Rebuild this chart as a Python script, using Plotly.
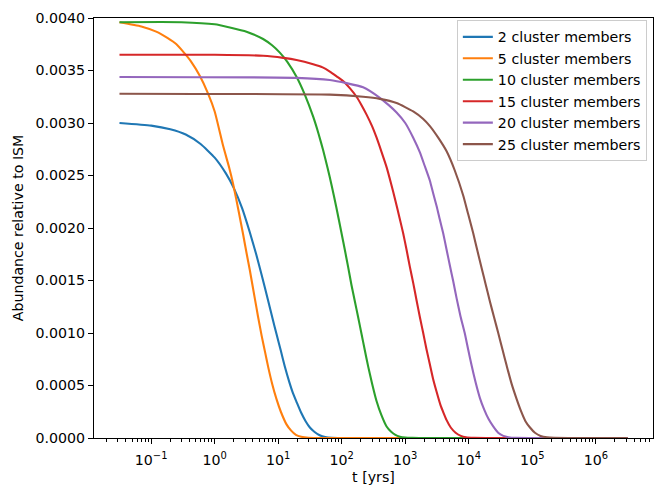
import plotly.graph_objects as go

# ---- data (t in years, abundance relative to ISM) ----
t_2 = [0.0317, 0.1, 0.2, 0.35, 0.6, 1.0, 1.5, 2.0, 2.7, 3.57, 4.5, 5.5, 6.93, 8.2, 9.4, 11, 12.7, 15, 17,
       19.4, 23, 27, 31.5, 37, 45, 55, 70, 100, 3.17e6]
v_2 = [0.00300, 0.002975, 0.00294, 0.00289, 0.00280, 0.00267, 0.00252, 0.00238, 0.00219, 0.00196, 0.00175,
       0.00155, 0.00131, 0.00113, 0.00099, 0.00083, 0.00068, 0.00053, 0.00043, 0.000345, 0.00024, 0.00016,
       0.00010, 0.00006, 0.000026, 0.000009, 0.000002, 0, 0]

t_5 = [0.0317, 0.07, 0.12, 0.18, 0.25, 0.318, 0.42, 0.582, 0.787, 1.0, 1.36, 1.7, 1.95, 2.4, 2.8, 3.2, 3.57,
       4.28, 4.8, 5.46, 6.2, 6.93, 8, 9.4, 11, 13.5, 16, 19, 23, 30, 40, 3.17e6]
v_5 = [0.00396, 0.00392, 0.00387, 0.00381, 0.00375, 0.00368, 0.00359, 0.00345, 0.00328, 0.00311, 0.00278,
       0.00257, 0.00242, 0.00215, 0.00194, 0.00175, 0.00160, 0.00133, 0.00116, 0.00098, 0.00082, 0.00068,
       0.00052, 0.00037, 0.00025, 0.00013, 0.00007, 0.00003, 0.000012, 0.000002, 0, 0]

t_10 = [0.0317, 0.3, 1.0, 1.73, 3.17, 5.78, 8, 10.6, 14, 19.4, 26.2, 35.5, 43, 51, 60, 69.1, 82, 99.3, 112,
        126, 142, 161, 180, 205, 230, 261, 300, 354, 420, 508, 600, 700, 823, 1000, 1300, 2000, 3.17e6]
v_10 = [0.00396, 0.00396, 0.00394, 0.00391, 0.00387, 0.00380, 0.00374, 0.00367, 0.00358, 0.00344, 0.00327,
        0.00306, 0.00290, 0.00274, 0.00257, 0.00241, 0.00220, 0.00195, 0.00179, 0.00163, 0.00146, 0.00130,
        0.00116, 0.00099, 0.00084, 0.00068, 0.00052, 0.00035, 0.00022, 0.00011, 0.00006, 0.00003,
        0.000013, 0.000004, 0.000001, 0, 0]

t_15 = [0.0317, 1, 5.78, 12, 19.4, 35.5, 50, 65, 85, 105, 135, 171, 205, 246, 300, 354, 420, 508, 600, 700,
        810, 927, 1050, 1182, 1340, 1508, 1700, 1916, 2150, 2443, 2750, 3113, 3600, 4000, 4477, 5200, 6200,
        7500, 9000, 12000, 20000, 3.17e6]
v_15 = [0.00365, 0.00365, 0.00364, 0.00362, 0.00360, 0.00356, 0.00353, 0.00349, 0.00344, 0.00340, 0.00333,
        0.00325, 0.00317, 0.00308, 0.00297, 0.00286, 0.00273, 0.00258, 0.00242, 0.00226, 0.00210, 0.00195,
        0.00179, 0.00163, 0.00147, 0.00131, 0.00115, 0.00100, 0.00085, 0.00070, 0.00056, 0.00044, 0.00031,
        0.00024, 0.00017, 0.00010, 0.00005, 0.00002, 0.000007, 0.000001, 0, 0]

t_20 = [0.0317, 19.4, 65, 119, 217, 398, 550, 730, 1000, 1334, 1700, 2000, 2443, 2750, 3113, 3500, 3955, 4450,
        5047, 5700, 6436, 7400, 8696, 9800, 11090, 12800, 14980, 17500, 20500, 24250, 29000, 35000, 42000,
        55000, 100000, 3.17e6]
v_20 = [0.003438, 0.00343, 0.00341, 0.00338, 0.00334, 0.00324, 0.00317, 0.00310, 0.00300, 0.00286, 0.00272,
        0.00260, 0.00245, 0.00233, 0.00221, 0.00208, 0.00195, 0.00180, 0.00164, 0.00149, 0.00133, 0.00116,
        0.00099, 0.00084, 0.00069, 0.00053, 0.00038, 0.00027, 0.00018, 0.00011, 0.00005, 0.00002,
        0.000008, 0.000001, 0, 0]

t_25 = [0.0317, 65, 217, 398, 730, 1334, 1900, 2443, 3300, 4477, 6000, 8170, 9800, 11750, 13700, 15920, 18500,
        21510, 25000, 29090, 34000, 39430, 47000, 56690, 66000, 78000, 91900, 110000, 135000, 170000, 220000,
        400000, 3.17e6]
v_25 = [0.003279, 0.00327, 0.00325, 0.00323, 0.00319, 0.00311, 0.00304, 0.00297, 0.00286, 0.00273, 0.00255,
        0.00231, 0.00213, 0.00195, 0.00178, 0.00162, 0.00146, 0.00130, 0.00115, 0.00100, 0.00084, 0.00069,
        0.00052, 0.00037, 0.00026, 0.00016, 0.00010, 0.00005, 0.00002, 0.000006, 0.000001, 0, 0]

series = [
    ("2 cluster members", t_2, v_2, "#1f77b4"),
    ("5 cluster members", t_5, v_5, "#ff7f0e"),
    ("10 cluster members", t_10, v_10, "#2ca02c"),
    ("15 cluster members", t_15, v_15, "#d62728"),
    ("20 cluster members", t_20, v_20, "#9467bd"),
    ("25 cluster members", t_25, v_25, "#8c564b"),
]

x_tickvals = [1e-1, 1e0, 1e1, 1e2, 1e3, 1e4, 1e5, 1e6]
x_ticktext = ["10<sup>\u22121</sup>", "10<sup>0</sup>", "10<sup>1</sup>", "10<sup>2</sup>",
              "10<sup>3</sup>", "10<sup>4</sup>", "10<sup>5</sup>", "10<sup>6</sup>"]
minor_vals = [m * 10.0 ** e for e in range(-2, 7) for m in range(2, 10)]

FONT = "DejaVu Sans"
FS = 14.2

fig = go.Figure()
for name, t, v, c in series:
    fig.add_trace(go.Scatter(x=t, y=v, mode="lines", name=name,
                             line=dict(color=c, width=2.1, shape="spline", smoothing=0.5)))

fig.update_layout(
    width=659, height=485,
    margin=dict(l=94, r=6, t=18, b=47),
    paper_bgcolor="white", plot_bgcolor="white",
    font=dict(family=FONT, size=FS, color="black"),
    showlegend=True,
    legend=dict(x=0.989, y=0.995, xanchor="right", yanchor="top",
                bgcolor="rgba(255,255,255,0.8)", bordercolor="#cccccc", borderwidth=1,
                font=dict(family=FONT, size=FS, color="black"),
                tracegroupgap=0, itemwidth=30),
    xaxis=dict(
        type="log", range=[-1.9, 6.9], automargin=False,
        tickmode="array", tickvals=x_tickvals, ticktext=x_ticktext,
        ticks="outside", ticklen=5, tickwidth=1.1, tickcolor="black",
        ticklabelstandoff=4,
        minor=dict(tickmode="array", tickvals=minor_vals, ticks="outside",
                   ticklen=3, tickwidth=0.8, tickcolor="black", showgrid=False),
        showgrid=False, zeroline=False,
        showline=True, linecolor="black", linewidth=1.1, mirror=True,
        title=dict(text="t [yrs]", font=dict(family=FONT, size=FS), standoff=6),
    ),
    yaxis=dict(
        range=[0, 0.004], automargin=False,
        tickmode="linear", tick0=0, dtick=0.0005, tickformat=".4f",
        ticks="outside", ticklen=5, tickwidth=1.1, tickcolor="black",
        showgrid=False, zeroline=False,
        showline=True, linecolor="black", linewidth=1.1, mirror=True,
        title=dict(text="Abundance relative to ISM", font=dict(family=FONT, size=FS), standoff=8),
    ),
)

fig.write_html("out.html", config={"displayModeBar": False},
               post_script="document.body.style.margin='0';document.body.style.padding='0';")
